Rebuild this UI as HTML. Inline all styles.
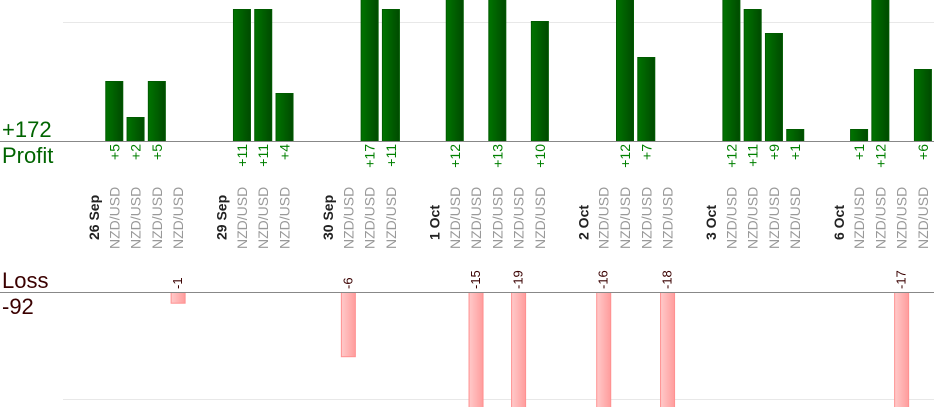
<!DOCTYPE html>
<html><head><meta charset="utf-8"><style>
html,body{margin:0;padding:0;background:#fff;overflow:hidden;width:934px;height:420px;}
svg{display:block;font-family:"Liberation Sans",sans-serif;}
</style></head><body>
<svg width="934" height="420" viewBox="0 0 934 420" xmlns="http://www.w3.org/2000/svg">
<defs>
<linearGradient id="g" x1="0" x2="1" y1="0" y2="0"><stop offset="0" stop-color="#007400"/><stop offset="1" stop-color="#004a00"/></linearGradient>
<linearGradient id="r" x1="0" x2="1" y1="0" y2="0"><stop offset="0" stop-color="#ffcaca"/><stop offset="1" stop-color="#ff9c9c"/></linearGradient>
<clipPath id="cp"><rect x="0" y="0" width="934" height="141"/></clipPath>
<clipPath id="cl"><rect x="0" y="293" width="934" height="114"/></clipPath>
</defs>
<line x1="63" y1="22.5" x2="934" y2="22.5" stroke="#e8e8e8"/>
<line x1="63" y1="399.5" x2="934" y2="399.5" stroke="#e8e8e8"/>
<g id="bars"></g>
<line x1="0" y1="141.5" x2="934" y2="141.5" stroke="#888"/>
<line x1="0" y1="292.5" x2="934" y2="292.5" stroke="#888"/>
<text x="2" y="137" font-size="22" fill="#006400">+172</text>
<text x="2" y="163" font-size="22" fill="#006400">Profit</text>
<text x="2" y="288" font-size="22" fill="#3a0000">Loss</text>
<text x="2" y="314" font-size="22" fill="#3a0000">-92</text>
<g id="labels"></g>
</svg>
<script>
var ns="http://www.w3.org/2000/svg";
function el(p,t,a,txt){var e=document.createElementNS(ns,t);for(var k in a)e.setAttribute(k,a[k]);if(txt!==undefined)e.textContent=txt;p.appendChild(e);return e;}
var slots={0:'26 Sep',1:5,2:2,3:5,4:-1,6:'29 Sep',7:11,8:11,9:4,11:'30 Sep',12:-6,13:17,14:11,16:'1 Oct',17:12,18:-15,19:13,20:-19,21:10,23:'2 Oct',24:-16,25:12,26:7,27:-18,29:'3 Oct',30:12,31:11,32:9,33:1,35:'6 Oct',36:1,37:12,38:-17,39:6};
var B=document.getElementById('bars'),L=document.getElementById('labels');
var gp=el(B,'g',{'clip-path':'url(#cp)'}),gl=el(B,'g',{'clip-path':'url(#cl)'});
for(var i=0;i<40;i++){if(!(i in slots))continue;var v=slots[i],cx=93+21.28*i;
 if(typeof v==='string'){el(L,'text',{x:cx+6,y:240,'font-size':14,'font-weight':'bold',fill:'#222',transform:'rotate(-90 '+(cx+6)+' 240)'},v);continue;}
 el(L,'text',{x:cx+5,y:249,'font-size':14,fill:'#999',transform:'rotate(-90 '+(cx+5)+' 249)'},'NZD/USD');
 if(v>0){var h=v*12;el(gp,'rect',{x:cx-8.5,y:141.5-h,width:17,height:h,fill:'url(#g)',stroke:'#005a00','stroke-width':1});
  el(L,'text',{x:cx+5,y:144,'font-size':14,fill:'#008000','text-anchor':'end',transform:'rotate(-90 '+(cx+5)+' 144)'},'+'+v);}
 else{var h=-v*10.7;el(gl,'rect',{x:cx-7,y:292.5,width:14,height:h,fill:'url(#r)',stroke:'#ff9090','stroke-width':1});
  el(L,'text',{x:cx+4,y:289,'font-size':13,fill:'#3a0000',transform:'rotate(-90 '+(cx+4)+' 289)'},''+v);}
}
</script>
</body></html>
